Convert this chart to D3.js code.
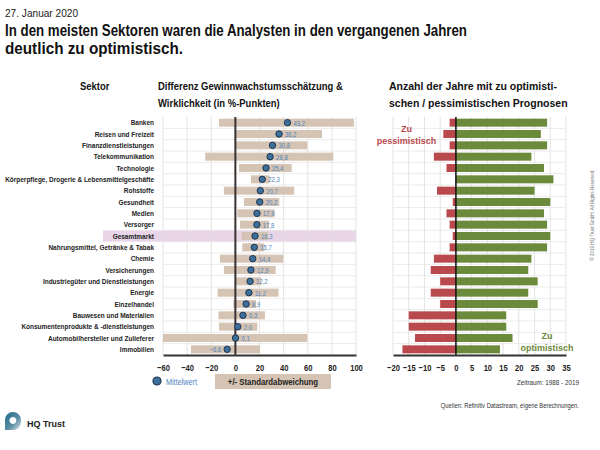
<!DOCTYPE html>
<html><head><meta charset="utf-8">
<script src="https://cdn.jsdelivr.net/npm/d3@7"></script>
<style>
body{margin:0;background:#fff;}
svg{display:block;}
text{font-family:"Liberation Sans",Arial,sans-serif;}
</style></head><body>
<svg id="c" width="600" height="450"></svg>
<script>
const sectors = ["Banken","Reisen und Freizeit","Finanzdienstleistungen","Telekommunikation","Technologie","Körperpflege, Drogerie & Lebensmittelgeschäfte","Rohstoffe","Gesundheit","Medien","Versorger","Gesamtmarkt","Nahrungsmittel, Getränke & Tabak","Chemie","Versicherungen","Industriegüter und Dienstleistungen","Energie","Einzelhandel","Bauwesen und Materialien","Konsumentenprodukte & -dienstleistungen","Automobilhersteller und Zulieferer","Immobilien"];
const meanDiff = [43.2,36.2,30.8,28.8,25.4,22.3,20.7,20.2,17.9,17.8,16.3,15.7,14.4,12.9,12.2,11.2,8.9,6.3,2.0,0.1,-6.8];
const sdLow  = [-13.6,0.2,0.2,-25,3,12.9,-9.5,7.1,1.6,3.8,5.2,5.7,-12.8,-9.5,-0.3,-14.7,-1.7,-14,-13.6,-60,-36.8];
const sdHigh = [98.3,71.8,59.6,81.2,46.7,28.4,48.8,36.4,32.6,27.9,27.3,24,39.7,33.4,21.2,35.8,17.1,24.5,18.2,59.6,20.4];
const pessimistic = [2,4,2,7,3,0,6,1,3,2,1,2,7,8,5,8,5,15,15,13,17];
const optimistic  = [29,27,29,24,28,31,25,30,28,29,30,29,24,23,26,23,26,16,16,18,14];
const diffTicks = [-60,-40,-20,0,20,40,60,80,100];
const yearTicks = [-20,-15,-10,-5,0,5,10,15,20,25,30,35];
const highlight = "Gesamtmarkt";

const svg = d3.select("#c");
const fmt = v => d3.format(".1f")(v).replace(".", ",");
function condense(sel, f){
  sel.each(function(){
    const w = this.getComputedTextLength();
    d3.select(this).attr("textLength", w*f).attr("lengthAdjust","spacingAndGlyphs");
  });
  return sel;
}
function fitTo(sel, w){
  return sel.attr("textLength", w).attr("lengthAdjust","spacingAndGlyphs");
}

const y = d3.scaleBand().domain(sectors).range([117,355]).padding(0);
const xL = d3.scaleLinear().domain([-60,100]).range([163,356]);
const xR = d3.scaleLinear().domain([-20,35]).range([393,566]);
const barH = 8;

// Titles
fitTo(svg.append("text").attr("x",5).attr("y",17).attr("font-size",11).attr("fill","#222").text("27. Januar 2020"),73);
fitTo(svg.append("text").attr("x",5).attr("y",36).attr("font-weight","bold").attr("font-size",16).attr("fill","#111").text("In den meisten Sektoren waren die Analysten in den vergangenen Jahren"),462);
fitTo(svg.append("text").attr("x",5).attr("y",54).attr("font-weight","bold").attr("font-size",16).attr("fill","#111").text("deutlich zu optimistisch."),178);

const hdr = (x,yy,t,f)=>condense(svg.append("text").attr("x",x).attr("y",yy).attr("font-weight","bold").attr("font-size",10.5).attr("fill","#111").text(t),f);
hdr(80,90,"Sektor",0.9);
hdr(158,90,"Differenz Gewinnwachstumsschätzung &",0.9);
hdr(158,107,"Wirklichkeit (in %-Punkten)",0.9);
hdr(389,90,"Anzahl der Jahre mit zu optimisti-",1.0);
hdr(389,107,"schen / pessimistischen Prognosen",1.0);

// highlight row
svg.append("rect").attr("x",103).attr("y",y(highlight)).attr("width",xL(100)-103).attr("height",y.bandwidth()).attr("fill","#e8d6e8");

// grids
function grid(x, ticks){
  const g = svg.append("g");
  g.selectAll("line.v").data(ticks).join("line")
    .attr("x1",d=>x(d)).attr("x2",d=>x(d)).attr("y1",117).attr("y2",355)
    .attr("stroke","#dcdcdc").attr("stroke-width",0.8);
  g.selectAll("line.h").data(sectors.slice(1)).join("line")
    .attr("x1",x.range()[0]).attr("x2",x.range()[1]).attr("y1",d=>y(d)).attr("y2",d=>y(d))
    .attr("stroke","#e4e4e4").attr("stroke-width",0.8);
}
grid(xL, diffTicks);
grid(xR, yearTicks);

// sector labels
condense(svg.append("g").selectAll("text").data(sectors).join("text")
  .attr("x",154).attr("y",d=>y(d)+y.bandwidth()/2+2.5)
  .attr("text-anchor","end").attr("font-size",7.2).attr("font-weight","bold").attr("fill","#222")
  .text(d=>d), 0.9);

// sd bars
svg.append("g").selectAll("rect").data(sectors).join("rect")
  .attr("x",(d,i)=>xL(Math.max(-60,sdLow[i]))).attr("width",(d,i)=>xL(sdHigh[i])-xL(Math.max(-60,sdLow[i])))
  .attr("y",d=>y(d)+(y.bandwidth()-barH)/2).attr("height",barH).attr("fill","#d5c3b3");

// zero line
svg.append("line").attr("x1",xL(0)).attr("x2",xL(0)).attr("y1",117).attr("y2",355).attr("stroke","#3a3232").attr("stroke-width",2);

// value labels
condense(svg.append("g").selectAll("text").data(sectors).join("text")
  .attr("x",(d,i)=>meanDiff[i]<0 ? xL(meanDiff[i])-6 : xL(meanDiff[i])+6)
  .attr("text-anchor",(d,i)=>meanDiff[i]<0?"end":"start")
  .attr("y",d=>y(d)+y.bandwidth()/2+3)
  .attr("font-size",7).attr("fill","#4f86bd")
  .text((d,i)=>fmt(meanDiff[i])),0.85);

// dots
svg.append("g").selectAll("circle").data(sectors).join("circle")
  .attr("cx",(d,i)=>xL(meanDiff[i])).attr("cy",d=>y(d)+y.bandwidth()/2)
  .attr("r",3.2).attr("fill","#3c6f99").attr("stroke","#1c3552").attr("stroke-width",1);

// right bars
const rb = svg.append("g");
rb.selectAll("rect.p").data(sectors).join("rect")
  .attr("x",(d,i)=>xR(-pessimistic[i])).attr("width",(d,i)=>xR(0)-xR(-pessimistic[i]))
  .attr("y",d=>y(d)+(y.bandwidth()-barH)/2).attr("height",barH).attr("fill","#b9494c");
rb.selectAll("rect.o").data(sectors).join("rect")
  .attr("x",xR(0)).attr("width",(d,i)=>xR(optimistic[i])-xR(0))
  .attr("y",d=>y(d)+(y.bandwidth()-barH)/2).attr("height",barH).attr("fill","#6c8a3c");
svg.append("line").attr("x1",xR(0)).attr("x2",xR(0)).attr("y1",117).attr("y2",355).attr("stroke","#111").attr("stroke-width",1.5);

// axes
function axis(x, ticks){
  const g = svg.append("g").attr("transform","translate(0,355)")
    .call(d3.axisBottom(x).tickValues(ticks).tickSize(0).tickPadding(9).tickFormat(d3.format("d")));
  g.select(".domain").attr("stroke","#333").attr("stroke-width",2);
  g.selectAll("text").attr("font-family","Liberation Sans, Arial").attr("font-weight","bold").attr("font-size",9.5).attr("fill","#222");
  condense(g.selectAll("text"),0.8);
}
axis(xL, diffTicks);
axis(xR, yearTicks);

// annotations
const ann = (x,yy,t,c)=>svg.append("text").attr("x",x).attr("y",yy).attr("text-anchor","middle").attr("font-weight","bold").attr("font-size",9).attr("fill",c).text(t);
ann(406.5,132,"Zu","#b9494c");
ann(406.5,143.5,"pessimistisch","#b9494c");
ann(547,339,"Zu","#6c8a3c");
ann(547,350.5,"optimistisch","#6c8a3c");

// legend
svg.append("circle").attr("cx",157).attr("cy",381).attr("r",4).attr("fill","#3c6f99").attr("stroke","#1c3552").attr("stroke-width",1.2);
condense(svg.append("text").attr("x",166).attr("y",384.5).attr("font-size",8.5).attr("fill","#4f86bd").text("Mittelwert"),0.85);
svg.append("rect").attr("x",215).attr("y",374).attr("width",116).attr("height",15).attr("fill","#d5c3b3");
condense(svg.append("text").attr("x",273).attr("y",385).attr("text-anchor","middle").attr("font-size",9.5).attr("font-weight","bold").attr("fill","#222").text("+/- Standardabweichung"),0.82);

condense(svg.append("text").attr("x",579).attr("y",385).attr("text-anchor","end").attr("font-size",7).attr("fill","#333").text("Zeitraum: 1988 - 2019"),0.9);
condense(svg.append("text").attr("x",579).attr("y",408).attr("text-anchor","end").attr("font-size",6.5).attr("fill","#333").text("Quellen: Refinitiv Datastream, eigene Berechnungen."),0.9);

// copyright
svg.append("text").attr("transform","translate(594,215) rotate(-90)").attr("text-anchor","middle").attr("font-size",4.5).attr("fill","#777").text("© 2019 HQ Trust GmbH. All Rights Reserved.");

// logo
const lg = svg.append("g").attr("transform","translate(4,412)");
const grad = svg.append("defs").append("linearGradient").attr("id","lgr").attr("x1","0").attr("y1","0").attr("x2","1").attr("y2","1");
grad.append("stop").attr("offset","0").attr("stop-color","#1f6a86");
grad.append("stop").attr("offset","0.6").attr("stop-color","#5f8fa6");
grad.append("stop").attr("offset","1").attr("stop-color","#e6edf1");
lg.append("path").attr("d","M9 0 A8 8 0 0 0 1 8 L1 18 L9 18 A8 8 0 0 0 17 10 L17 8 A8 8 0 0 0 9 0 Z M9 5 A3.5 3.5 0 1 1 8.9 5 Z").attr("fill","url(#lgr)").attr("fill-rule","evenodd");
svg.append("text").attr("x",27).attr("y",427).attr("font-weight","bold").attr("font-size",9).attr("fill","#222").text("HQ Trust");
</script></body></html>
